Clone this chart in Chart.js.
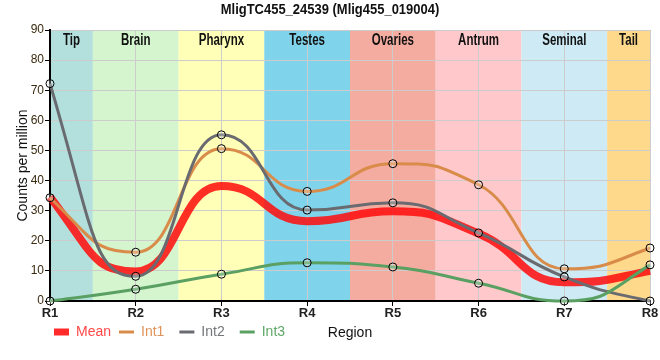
<!DOCTYPE html>
<html><head><meta charset="utf-8">
<script src="https://cdn.jsdelivr.net/npm/chart.js@4"></script>
<style>html,body{margin:0;padding:0;background:#fff}#wrap{width:660px;height:360px}</style>
</head><body><div id="wrap"><canvas id="c" width="660" height="360"></canvas></div>
<script>
const regions = ['R1','R2','R3','R4','R5','R6','R7','R8'];
const meanVals = [34.6, 9.8, 38.2, 26.5, 29.8, 22.4, 6.2, 10.0];
const int1Vals = [34.3, 16.2, 50.6, 36.4, 45.6, 38.6, 10.7, 17.6];
const int2Vals = [72.2, 8.2, 55.2, 30.2, 32.6, 22.6, 8.0, 0];
const int3Vals = [0, 3.9, 8.9, 12.7, 11.3, 5.9, 0, 12.0];
const yTicks = [0,10,20,30,40,50,60,70,80,90];
const tissues = ['Tip','Brain','Pharynx','Testes','Ovaries','Antrum','Seminal','Tail'];
const tissueColors = ['#b3e0dc','#d5f5cf','#ffffb7','#7fd4ec','#f5aca0','#ffc9cc','#cdeaf5','#ffd98b'];
const seriesNames = ['Mean','Int1','Int2','Int3'];
const seriesColors = ['rgba(255,10,10,0.85)','#d98c4a','#696b70','#5aa062'];
const legendText = ['#ff4848','#e0935a','#74767a','#60a868'];
const titleText = 'MligTC455_24539 (Mlig455_019004)';
const xTitle = 'Region';

const SANS = '"Liberation Sans",Arial,sans-serif';

// smoother handles (monotone slopes, longer Bezier handles)
const smoothPlugin = {
  id:'smooth',
  beforeDatasetDraw(chart, args){
    const meta = args.meta, line = meta.dataset, pts = meta.data;
    line.updateControlPoints(chart.chartArea, 'x');
    const n = pts.length, k = 0.5, h = [], s = [], m = [];
    for (let i=0;i<n-1;i++){ h[i] = pts[i+1].x-pts[i].x; s[i] = (pts[i+1].y-pts[i].y)/h[i]; }
    for (let i=1;i<n-1;i++){
      if (s[i-1]*s[i] <= 0) { m[i] = 0; continue; }
      const p = (s[i-1]*h[i] + s[i]*h[i-1])/(h[i-1]+h[i]);
      m[i] = (Math.sign(s[i-1])+Math.sign(s[i]))*Math.min(Math.abs(s[i-1]),Math.abs(s[i]),0.5*Math.abs(p));
    }
    const endSlope = (sec, nb) => {
      let t = (3*sec - nb)/2;
      if (Math.sign(t) !== Math.sign(sec)) t = 0;
      if (Math.abs(t) > 3*Math.abs(sec)) t = 3*sec;
      return t;
    };
    m[0] = endSlope(s[0], m[1]);
    m[n-1] = endSlope(s[n-2], m[n-2]);
    for (let i=0;i<n;i++){
      const P = pts[i];
      if (i>0){ P.cp1x = P.x - k*h[i-1]; P.cp1y = P.y - m[i]*k*h[i-1]; }
      if (i<n-1){ P.cp2x = P.x + k*h[i]; P.cp2y = P.y + m[i]*k*h[i]; }
    }
    line._path = undefined;
  }
};

const bandsPlugin = {
  id:'bands',
  beforeDraw(chart){
    const {ctx, chartArea:a, scales:{x}} = chart;
    if (chart.legend) chart.legend.left = 46;
    ctx.save();
    const n = regions.length;
    for(let i=0;i<tissues.length;i++){
      const l = x.getPixelForValue(Math.max(0,i-0.5));
      const r = x.getPixelForValue(Math.min(n-1,i+0.5));
      ctx.fillStyle = tissueColors[i];
      ctx.fillRect(l, a.top, r-l, a.bottom-a.top);
    }
    ctx.fillStyle = '#111';
    ctx.textAlign='center'; ctx.textBaseline='middle';
    ctx.font = 'bold 15px ' + SANS;
    ctx.save(); ctx.translate(330, 10); ctx.scale(0.865,1); ctx.fillText(titleText, 0, 0); ctx.restore();
    ctx.restore();
  },
  afterDatasetsDraw(chart){
    const {ctx, chartArea:a, scales:{x}} = chart;
    ctx.save();
    const n = regions.length;
    ctx.font = 'bold 16px ' + SANS;
    ctx.fillStyle = '#111';
    ctx.textAlign='center'; ctx.textBaseline='middle';
    for(let i=0;i<tissues.length;i++){
      const l = x.getPixelForValue(Math.max(0,i-0.5));
      const r = x.getPixelForValue(Math.min(n-1,i+0.5));
      ctx.save(); ctx.translate((l+r)/2, a.top+11); ctx.scale(0.72,1);
      ctx.fillText(tissues[i], 0, 0); ctx.restore();
    }
    const lg = chart.legend;
    ctx.font = '14px ' + SANS;
    ctx.fillText(xTitle, (a.left+a.right)/2, lg.top + lg.height/2);
    ctx.restore();
  }
};

const datasets = [meanVals,int1Vals,int2Vals,int3Vals].map((d,i)=>({
  label: seriesNames[i],
  data: d,
  borderColor: seriesColors[i],
  backgroundColor: 'rgba(0,0,0,0)',
  borderWidth: i===0 ? 8 : 3,
  pointRadius: i===0 ? 0 : 4,
  pointHoverRadius: i===0 ? 0 : 4,
  pointBorderColor: '#000',
  pointBorderWidth: 1,
  pointBackgroundColor: 'rgba(255,255,255,0.25)',
  cubicInterpolationMode: 'monotone',
  fill: false,
  clip: false,
  order: 4-i
}));

new Chart(document.getElementById('c'), {
  type:'line',
  data:{labels: regions, datasets},
  plugins:[smoothPlugin, bandsPlugin],
  options:{
    responsive:false, animation:false, events:[],
    layout:{padding:{left:0,right:10,top:30,bottom:11}},
    plugins:{
      title:{display:false},
      tooltip:{enabled:false},
      legend:{position:'bottom',align:'start',
        labels:{
          usePointStyle:true, pointStyleWidth:15, boxHeight:7, padding:8,
          font:{family:SANS,size:14},
          generateLabels(){
            return seriesNames.map((nm,i)=>({
              text: i===1||i===2 ? nm+'\u2002' : nm,
              pointStyle: i===0 ? 'rect' : 'line',
              fillStyle: i===0?'#ff2a2a':seriesColors[i],
              strokeStyle: i===0?'#ff2a2a':seriesColors[i],
              lineWidth: i===0?0:3, fontColor: legendText[i],
              hidden:false, datasetIndex:i
            }));
          }
        }}
    },
    scales:{
      x:{offset:false,
        afterFit(s){s.height=16;},
        grid:{color:'#cccccc',lineWidth:1,drawTicks:true,tickLength:5,tickColor:'#000'},
        border:{color:'#000',width:2},
        ticks:{color:'#222',font:{family:SANS,size:13,weight:'bold'},padding:0,maxRotation:0},
        title:{display:false}},
      y:{min:0,max:90,
        afterFit(s){s.width=50;},
        afterBuildTicks(s){s.ticks = yTicks.map(v=>({value:v}));},
        grid:{color:'#cccccc',lineWidth:1,tickLength:5,tickColor:'#000'},
        border:{color:'#000',width:2},
        ticks:{color:'#3a2a10',font:{family:SANS,size:12},padding:1},
        title:{display:true,text:'Counts per million',color:'#111',
          font:{family:SANS,size:14},padding:{top:15,bottom:0}}}
    }
  }
});
</script></body></html>
